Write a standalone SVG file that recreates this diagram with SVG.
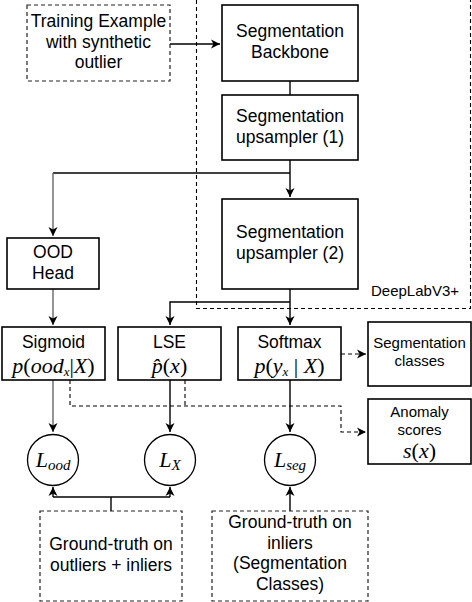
<svg xmlns="http://www.w3.org/2000/svg" width="472" height="602" viewBox="0 0 472 602">
<defs>
<style>
.box{fill:#fff;stroke:#000;stroke-width:1.6}
.dbox{fill:#fff;stroke:#222;stroke-width:1.2;stroke-dasharray:4 3}
.t{font-family:"Liberation Sans",Arial,sans-serif;font-size:17.5px;text-anchor:middle;fill:#000}
.ts{font-family:"Liberation Sans",Arial,sans-serif;font-size:15px;text-anchor:middle;fill:#000}
.m{font-family:"Liberation Serif","Times New Roman",serif;font-style:italic;font-size:22px;text-anchor:middle;fill:#000}
.u{font-style:normal}
.ln{fill:none;stroke:#000;stroke-width:1.4}
.gl{fill:none;stroke:#666;stroke-width:1.4}
.dl{fill:none;stroke:#000;stroke-width:1.1;stroke-dasharray:4 3}
.lc{fill:#fff;stroke:#000;stroke-width:1.3}
</style>
<marker id="a" markerUnits="userSpaceOnUse" markerWidth="10" markerHeight="10" refX="9" refY="5" orient="auto">
<path d="M0,0.5 L9,5 L0,9.5 L2.5,5 z" fill="#000"/>
</marker>
</defs>

<g id="deeplab">
<path d="M196.5,0 V308.5 H470.5 V0" fill="none" stroke="#000" stroke-width="1.1" stroke-dasharray="4 3"/>
<text class="ts" x="415" y="296">DeepLabV3+</text>
</g>

<g id="connectors">
<path class="ln" d="M170,44 H220" marker-end="url(#a)"/>
<path class="ln" d="M290,81 V95"/>
<path class="ln" d="M290,160 V197" marker-end="url(#a)"/>
<path class="ln" d="M290,173 H53"/>
<path class="gl" d="M53,173 V236" marker-end="url(#a)"/>
<path class="gl" d="M53,289 V325" marker-end="url(#a)"/>
<path class="ln" d="M290,289 V325" marker-end="url(#a)"/>
<path class="ln" d="M290,302 H170 V325" marker-end="url(#a)"/>
<path class="dl" d="M341,354 H366" marker-end="url(#a)"/>
<path class="gl" d="M53,380 V432" marker-end="url(#a)"/>
<path class="ln" d="M170,380 V432" marker-end="url(#a)"/>
<path class="ln" d="M290,380 V432" marker-end="url(#a)"/>
<path class="dl" d="M70,380 V406 H341 V432 H366" marker-end="url(#a)"/>
<path class="dl" d="M185,380 V406" stroke-width="1.6"/>
<path class="ln" d="M111,511 V497" stroke-width="1.1"/>
<path class="ln" d="M53,497 H170" stroke-width="1.1"/>
<path class="ln" d="M53,497 V487" marker-end="url(#a)"/>
<path class="ln" d="M170,497 V487" marker-end="url(#a)"/>
<path class="ln" d="M290,511 V487" marker-end="url(#a)"/>
</g>

<g id="training">
<rect class="dbox" x="27" y="5" width="143" height="76"/>
<text class="t" x="98.5" y="27">Training Example</text>
<text class="t" x="98.5" y="48">with synthetic</text>
<text class="t" x="98.5" y="68">outlier</text>
</g>

<g id="backbone">
<rect class="box" x="222" y="5" width="136" height="76"/>
<text class="t" x="290" y="37">Segmentation</text>
<text class="t" x="290" y="58">Backbone</text>
</g>

<g id="up1">
<rect class="box" x="222" y="95" width="136" height="65"/>
<text class="t" x="290" y="122">Segmentation</text>
<text class="t" x="290" y="143">upsampler (1)</text>
</g>

<g id="up2">
<rect class="box" x="222" y="199" width="136" height="90"/>
<text class="t" x="290" y="238">Segmentation</text>
<text class="t" x="290" y="259">upsampler (2)</text>
</g>

<g id="oodhead">
<rect class="box" x="7" y="238" width="92" height="51" stroke-width="2"/>
<text class="t" x="53" y="258">OOD</text>
<text class="t" x="53" y="279">Head</text>
</g>

<g id="sigmoid">
<rect class="box" x="2" y="327" width="103" height="53"/>
<text class="t" x="53.5" y="348">Sigmoid</text>
<text class="m" x="53.5" y="373">p<tspan class="u">(</tspan>ood<tspan font-size="13" dy="3">x</tspan><tspan class="u" dy="-3">|</tspan>X<tspan class="u">)</tspan></text>
</g>

<g id="lse">
<rect class="box" x="118" y="327" width="103" height="53"/>
<text class="t" x="169.5" y="348">LSE</text>
<text class="m" x="169.5" y="373">p̂<tspan class="u">(</tspan>x<tspan class="u">)</tspan></text>
</g>

<g id="softmax">
<rect class="box" x="238" y="327" width="103" height="53"/>
<text class="t" x="289.5" y="348">Softmax</text>
<text class="m" x="289.5" y="373" font-size="21">p<tspan class="u">(</tspan>y<tspan font-size="13" dy="3">x</tspan><tspan class="u" dy="-3"> | </tspan>X<tspan class="u">)</tspan></text>
</g>

<g id="segclasses">
<rect class="box" x="368" y="322" width="103" height="64"/>
<text class="ts" x="419.5" y="348">Segmentation</text>
<text class="ts" x="419.5" y="366">classes</text>
</g>

<g id="anomaly">
<rect class="box" x="368" y="399" width="103" height="65"/>
<text class="ts" x="419.5" y="417">Anomaly</text>
<text class="ts" x="419.5" y="435" font-size="13.5">scores</text>
<text class="m" x="419.5" y="458" font-size="19">s<tspan class="u">(</tspan>x<tspan class="u">)</tspan></text>
</g>

<g id="lood">
<circle class="lc" cx="53" cy="460" r="25.5"/>
<text class="m" x="53" y="467" font-size="24">L<tspan font-size="15" dy="3">ood</tspan></text>
</g>

<g id="lx">
<circle class="lc" cx="170" cy="460" r="25.5"/>
<text class="m" x="170" y="467" font-size="24">L<tspan font-size="15" dy="3">X</tspan></text>
</g>

<g id="lseg">
<circle class="lc" cx="290" cy="460" r="25.5"/>
<text class="m" x="290" y="467" font-size="24">L<tspan font-size="15" dy="3">seg</tspan></text>
</g>

<g id="gt1">
<rect class="dbox" x="40" y="511" width="142" height="90" stroke="#444"/>
<text class="t" x="111" y="550">Ground-truth on</text>
<text class="t" x="111" y="571">outliers + inliers</text>
</g>

<g id="gt2">
<rect class="dbox" x="212" y="511" width="156" height="90" stroke="#444"/>
<text class="t" x="290" y="528">Ground-truth on</text>
<text class="t" x="290" y="548.5">inliers</text>
<text class="t" x="290" y="569">(Segmentation</text>
<text class="t" x="290" y="589.5">Classes)</text>
</g>
</svg>
